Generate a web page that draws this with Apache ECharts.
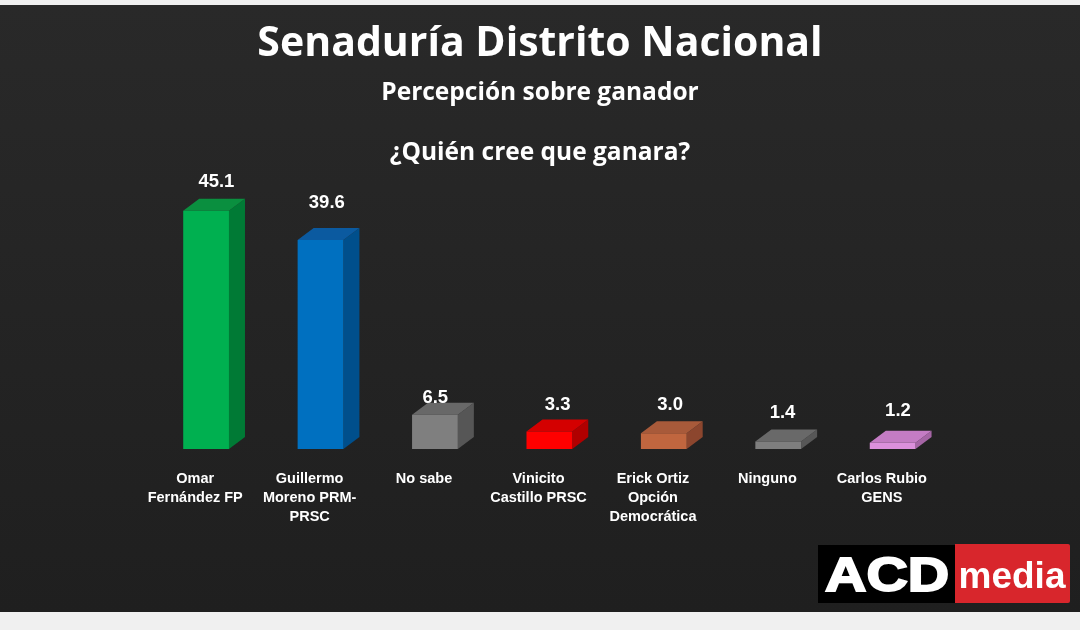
<!DOCTYPE html>
<html>
<head>
<meta charset="utf-8">
<script src="https://cdn.jsdelivr.net/npm/echarts@6/dist/echarts.min.js"></script>
<style>html,body{margin:0;padding:0;background:#f0f0f0}#c{width:1080px;height:630px}</style>
</head>
<body>
<div id="c"></div>
<script>
const categories = ["Omar\nFernández FP", "Guillermo\nMoreno PRM-\nPRSC", "No sabe", "Vinicito\nCastillo PRSC", "Erick Ortiz\nOpción\nDemocrática", "Ninguno", "Carlos Rubio\nGENS"];
const values = [45.1, 39.6, 6.5, 3.3, 3.0, 1.4, 1.2];
const valueLabels = ["45.1", "39.6", "6.5", "3.3", "3.0", "1.4", "1.2"];

// styling only
const frontColors = ["#00B050", "#0070C0", "#7F7F7F", "#FF0000", "#C0663F", "#7E7E7E", "#DC90DC"];
const topColors   = ["#0A8F3F", "#0B5AA0", "#686868", "#D40000", "#A85A3A", "#696969", "#C47CC4"];
const sideColors  = ["#007A35", "#004F8C", "#565656", "#B00000", "#8C462E", "#575757", "#A565A5"];
const labelDx = [4, 0, -6, 2, 0, -2, -1];
const labelDy = [-1, -9, 11, 1, 0, -1, -4];

const chart = echarts.init(document.getElementById('c'), null, {renderer: 'canvas'});
const data = values.map((v, i) => [i, v]);

chart.setOption({
  backgroundColor: '#f0f0f0',
  animation: false,
  graphic: [
    {type: 'rect', z: -10, shape: {x: 0, y: 5, width: 1080, height: 607},
     style: {fill: new echarts.graphic.LinearGradient(0, 0, 0, 1, [{offset: 0, color: '#292929'}, {offset: 1, color: '#1f1f1f'}])}},
    {type: 'rect', z: 10, shape: {x: 818, y: 545, width: 137, height: 58}, style: {fill: '#000000'}},
    {type: 'rect', z: 10, shape: {x: 955, y: 544, width: 115, height: 59, r: [0, 2, 2, 0]}, style: {fill: '#D8262C'}},
    {type: 'text', z: 11, x: 825, y: 577, scaleX: 1.17,
     style: {text: 'ACD', fill: '#ffffff', stroke: '#ffffff', lineWidth: 2, font: 'bold 49px "Liberation Sans", Arial, sans-serif', verticalAlign: 'middle', align: 'left'}},
    {type: 'text', z: 11, x: 1012, y: 578,
     style: {text: 'media', fill: '#ffffff', font: 'bold 37px "Liberation Sans", Arial, sans-serif', verticalAlign: 'middle', align: 'center'}}
  ],
  title: [
    {text: 'Senaduría Distrito Nacional', left: 'center', top: 19,
     textStyle: {color: '#ffffff', fontSize: 41, fontWeight: 'bold', fontFamily: '"Open Sans", sans-serif'}},
    {text: 'Percepción sobre ganador', left: 'center', top: 76,
     textStyle: {color: '#ffffff', fontSize: 24.5, fontWeight: 'bold', fontFamily: '"Open Sans", sans-serif'}},
    {text: '¿Quién cree que ganara?', left: 'center', top: 136,
     textStyle: {color: '#ffffff', fontSize: 24.5, fontWeight: 'bold', fontFamily: '"Open Sans", sans-serif'}}
  ],
  grid: {left: 138, right: 141, top: 185, bottom: 181},
  xAxis: {
    type: 'category', data: categories,
    axisLine: {show: false}, axisTick: {show: false}, splitLine: {show: false},
    axisLabel: {color: '#ffffff', fontSize: 14.5, fontWeight: 'bold', fontFamily: '"Liberation Sans", Arial, sans-serif',
      lineHeight: 19, margin: 20, interval: 0, verticalAlign: 'top'}
  },
  yAxis: {type: 'value', min: 0, max: 50, show: false, splitLine: {show: false}},
  series: [{
    type: 'custom',
    data: data,
    renderItem: function (params, api) {
      const i = api.value(0), v = api.value(1);
      const base = api.coord([i, 0]);
      const topP = api.coord([i, v]);
      const band = api.size([1, 0])[0];
      const cx = base[0];
      const x0 = cx - band * 0.105, x1 = x0 + band * 0.40;
      const dx = band * 0.14, dy = 12;
      const yb = base[1], yt = topP[1];
      return {
        type: 'group',
        children: [
          {type: 'polygon', shape: {points: [[x1, yb], [x1, yt], [x1 + dx, yt - dy], [x1 + dx, yb - dy]]},
           style: {fill: sideColors[i]}},
          {type: 'polygon', shape: {points: [[x0, yt], [x1, yt], [x1 + dx, yt - dy], [x0 + dx, yt - dy]]},
           style: {fill: topColors[i]}},
          {type: 'rect', shape: {x: x0, y: yt, width: x1 - x0, height: yb - yt},
           style: {fill: frontColors[i]}},
          {type: 'text', x: cx + band * 0.15 + labelDx[i], y: yt - 28 + labelDy[i],
           style: {text: valueLabels[i], fill: '#ffffff', font: 'bold 18.5px "Liberation Sans", Arial, sans-serif',
                   align: 'center', verticalAlign: 'middle'}}
        ]
      };
    }
  }]
});
</script>
</body>
</html>
